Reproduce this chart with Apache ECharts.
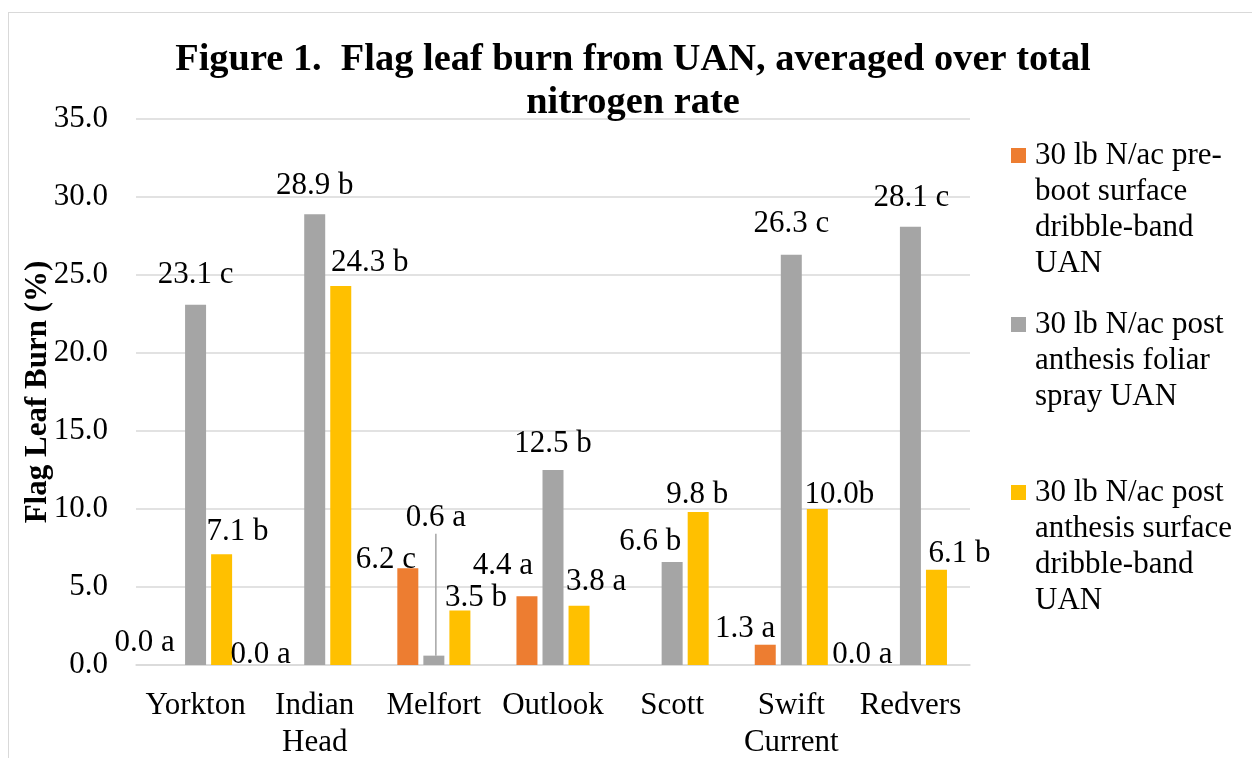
<!DOCTYPE html>
<html>
<head>
<meta charset="utf-8">
<script src="https://cdn.jsdelivr.net/npm/echarts@6/dist/echarts.min.js"></script>
<style>
  html, body { margin: 0; padding: 0; background: #fff; }
  #frame {
    position: absolute; left: 8px; top: 12px; width: 1400px; height: 900px;
    border-top: 1.5px solid #d9d9d9; border-left: 1.5px solid #d9d9d9;
  }
  #chart { position: absolute; left: 0; top: 0; width: 1252px; height: 758px; }
</style>
</head>
<body>
<div id="frame"></div>
<div id="chart"></div>
<script>
// sites
const categories = ['Yorkton', 'Indian\nHead', 'Melfort', 'Outlook', 'Scott', 'Swift\nCurrent', 'Redvers']

// flag leaf burn (%)
const preBoot = [0.0, 0.0, 6.2, 4.4, null, 1.3, 0.0]
const postFoliar = [23.1, 28.9, 0.6, 12.5, 6.6, 26.3, 28.1]
const postDribble = [7.1, 24.3, 3.5, 3.8, 9.8, 10.0, 6.1]

// letter groups shown after each value
const preBootLetters = [' a', ' a', ' c', ' a', '', ' a', ' a']
const postFoliarLetters = [' c', ' b', ' a', ' b', ' b', ' c', ' c']
const postDribbleLetters = [' b', ' b', ' b', ' a', ' b', 'b', ' b']

const seriesNames = [
  '30 lb N/ac pre-boot surface dribble-band UAN',
  '30 lb N/ac post anthesis foliar spray UAN',
  '30 lb N/ac post anthesis surface dribble-band UAN'
]
// legend text wrapped as in the figure
const legendLines = [
  ['30 lb N/ac pre-', 'boot surface', 'dribble-band', 'UAN'],
  ['30 lb N/ac post', 'anthesis foliar', 'spray UAN'],
  ['30 lb N/ac post', 'anthesis surface', 'dribble-band', 'UAN']
]

const yTicks = [0, 5, 10, 15, 20, 25, 30, 35]

// label nudges [dx, dy] per series / site (the labels were hand-placed)
const labelNudge = [
  [[-25, -2], [-28, 10], [-22, 12], [-24, -10], [0, 0], [-20, 5], [-22, 10]],
  [[0, -9], [0, -8], [2, -117], [0, -6], [-22, 0], [0, -10], [1, -8]],
  [[16, -2], [29, -3], [16, 8], [17, -3], [-1, 3], [22, 6], [23, 5]]
]

const FONT = '"Liberation Serif", "Times New Roman", serif'
const colors = ['#ED7D31', '#A5A5A5', '#FFC000']

const chart = echarts.init(document.getElementById('chart'), null, { renderer: 'canvas' })

function barSeries(idx, values, letters) {
  return {
    name: seriesNames[idx],
    type: 'bar',
    barWidth: 21,
    barGap: '24%',
    itemStyle: { color: colors[idx] },
    data: values.map((v, i) => {
      const item = { value: v }
      // the tiny Melfort foliar bar has its label pulled up with a leader line
      if (idx === 1 && i === 2) {
        item.labelLine = { show: true, lineStyle: { color: '#A5A5A5', width: 1.5 } }
      }
      return item
    }),
    label: {
      show: true,
      position: 'top',
      distance: 5,
      fontFamily: FONT,
      fontSize: 31,
      color: '#000',
      formatter: (p) => p.value == null ? '' : p.value.toFixed(1) + letters[p.dataIndex]
    },
    labelLayout: (p) => {
      const n = labelNudge[idx][p.dataIndex]
      return { dx: n[0], dy: n[1] }
    }
  }
}

function legendFor(idx, iconCenterY) {
  const lines = legendLines[idx]
  const pad = lines.length - 1
  const blockH = (lines.length + pad) * 36
  return {
    data: [seriesNames[idx]],
    orient: 'vertical',
    left: 1011,
    top: iconCenterY - blockH / 2,
    padding: 0,
    itemWidth: 15,
    itemHeight: 15,
    icon: 'rect',
    selectedMode: false,
    textStyle: {
      fontFamily: FONT,
      fontSize: 31,
      lineHeight: 36,
      color: '#000',
      padding: [0, 0, 0, 4]
    },
    // blank lines above so the first line sits level with the square
    formatter: () => '\n'.repeat(pad) + lines.join('\n')
  }
}

const option = {
  animation: false,
  color: colors,
  title: {
    text: 'Figure 1.  Flag leaf burn from UAN, averaged over total\nnitrogen rate',
    left: 633,
    textAlign: 'center',
    top: 39,
    padding: 0,
    textStyle: {
      fontFamily: FONT,
      fontSize: 38.4,
      fontWeight: 'bold',
      lineHeight: 43,
      color: '#000'
    }
  },
  legend: [
    legendFor(0, 155.5),
    legendFor(1, 324.5),
    legendFor(2, 492.5)
  ],
  grid: {
    left: 136,
    right: 282,
    top: 119,
    bottom: 93,
    containLabel: false,
    outerBoundsMode: 'none'
  },
  xAxis: {
    type: 'category',
    data: categories,
    axisTick: { show: false },
    axisLine: { lineStyle: { color: '#d9d9d9', width: 1.5 } },
    axisLabel: {
      interval: 0,
      margin: 22,
      fontFamily: FONT,
      fontSize: 31,
      lineHeight: 37,
      color: '#000'
    }
  },
  yAxis: {
    type: 'value',
    min: yTicks[0],
    max: yTicks[yTicks.length - 1],
    interval: 5,
    name: 'Flag Leaf Burn (%)',
    nameLocation: 'middle',
    nameRotate: 90,
    nameGap: 83,
    nameMoveOverlap: false,
    nameTextStyle: {
      fontFamily: FONT,
      fontSize: 31,
      fontWeight: 'bold',
      color: '#000'
    },
    axisLine: { show: false },
    axisTick: { show: false },
    splitLine: { lineStyle: { color: '#d9d9d9', width: 1.5 } },
    axisLabel: {
      margin: 28,
      fontFamily: FONT,
      fontSize: 31,
      color: '#000',
      formatter: (v) => v.toFixed(1)
    }
  },
  series: [
    barSeries(0, preBoot, preBootLetters),
    barSeries(1, postFoliar, postFoliarLetters),
    barSeries(2, postDribble, postDribbleLetters)
  ]
}

chart.setOption(option)
</script>
</body>
</html>
